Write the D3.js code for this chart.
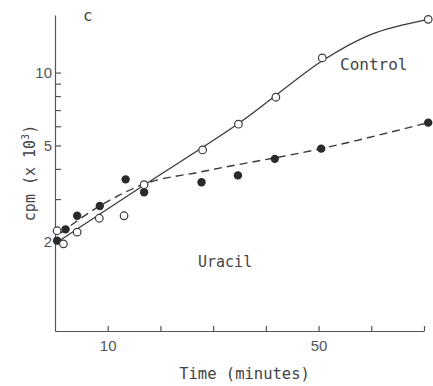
<!DOCTYPE html>
<html>
<head>
<meta charset="utf-8">
<script src="https://cdn.jsdelivr.net/npm/d3@7"></script>
<style>
  html, body { margin: 0; padding: 0; background: #fff; }
  svg { display: block; }
  .mono { font-family: "DejaVu Sans Mono", "Liberation Mono", monospace; fill: #444; }
  .tick text { font-family: "Liberation Sans", Arial, sans-serif; font-size: 15px; fill: #555; }
</style>
</head>
<body>
<script>
// time (minutes) and cpm (x 10^3)
const controlTime = [0.4, 1.6, 4.2, 8.4, 13.1, 16.9, 28, 34.8, 41.9, 50.7, 70.8];
const controlCpm  = [2.22, 1.96, 2.19, 2.50, 2.56, 3.44, 4.79, 6.12, 7.91, 11.5, 16.6];
const uracilTime  = [0.4, 2.0, 4.2, 8.5, 13.4, 16.9, 27.8, 34.7, 41.7, 50.5, 70.8];
const uracilCpm   = [2.02, 2.25, 2.56, 2.81, 3.62, 3.20, 3.52, 3.76, 4.40, 4.85, 6.21];

// hand-drawn fitted curves
const controlFitTime = [0.4, 17, 35, 51, 60, 70.8];
const controlFitCpm  = [1.99, 3.44, 6.2, 11.3, 14.4, 16.6];
const uracilFitTime  = [1, 8.5, 16.9, 28, 50.5, 70.8];
const uracilFitCpm   = [2.17, 2.81, 3.46, 3.90, 4.85, 6.21];

const xTicks = [10, 20, 30, 40, 50, 60, 70];
const xLabels = [10, 50];
const yTicks = [2, 3, 4, 5, 6, 7, 8, 9, 10];
const yLabels = [2, 5, 10];

const width = 433, height = 386;
const ink = "#3a3a3a";

const svg = d3.select("body").append("svg")
    .attr("width", width)
    .attr("height", height);

const x = d3.scaleLinear().domain([0, 70]).range([55, 424]);
const y = d3.scaleLog().domain([0.855, 17.3]).range([331, 15]);

// axes
const xAxis = d3.axisBottom(x)
    .tickValues(xTicks)
    .tickSizeInner(-5)
    .tickSizeOuter(0)
    .tickPadding(9)
    .tickFormat(d => xLabels.includes(d) ? d : "");

const yAxis = d3.axisLeft(y)
    .tickValues(yTicks)
    .tickSizeInner(-6)
    .tickSizeOuter(0)
    .tickPadding(3)
    .tickFormat(d => yLabels.includes(d) ? d : "");

const gx = svg.append("g")
    .attr("transform", `translate(0,${y.range()[0]})`)
    .call(xAxis);
const gy = svg.append("g")
    .attr("transform", `translate(${x.range()[0]},0)`)
    .call(yAxis);

[gx, gy].forEach(g => {
  g.select(".domain").attr("stroke", "#555").attr("stroke-width", 1.2);
  g.selectAll(".tick line").attr("stroke", "#555").attr("stroke-width", 1.2);
});

// fitted curves
const zip = (a, b) => a.map((v, i) => [v, b[i]]);
const line = d3.line()
    .x(d => x(d[0]))
    .y(d => y(d[1]));

svg.append("path")
    .datum(zip(controlFitTime, controlFitCpm))
    .attr("d", line.curve(d3.curveCatmullRom.alpha(0.5)))
    .attr("fill", "none")
    .attr("stroke", ink)
    .attr("stroke-width", 1.3);

svg.append("path")
    .datum(zip(uracilFitTime, uracilFitCpm))
    .attr("d", line.curve(d3.curveMonotoneX))
    .attr("fill", "none")
    .attr("stroke", ink)
    .attr("stroke-width", 1.4)
    .attr("stroke-dasharray", "8,5");

// points
svg.append("g").selectAll("circle")
    .data(zip(uracilTime, uracilCpm))
    .join("circle")
    .attr("cx", d => x(d[0]))
    .attr("cy", d => y(d[1]))
    .attr("r", 4.2)
    .attr("fill", "#2a2a2a");

svg.append("g").selectAll("circle")
    .data(zip(controlTime, controlCpm))
    .join("circle")
    .attr("cx", d => x(d[0]))
    .attr("cy", d => y(d[1]))
    .attr("r", 3.8)
    .attr("fill", "#fff")
    .attr("stroke", ink)
    .attr("stroke-width", 1.2);

// labels
svg.append("text").attr("class", "mono")
    .attr("x", 83).attr("y", 21)
    .style("font-size", "16px")
    .text("c");

svg.append("text").attr("class", "mono")
    .attr("x", 340).attr("y", 70)
    .style("font-size", "16px")
    .text("Control");

svg.append("text").attr("class", "mono")
    .attr("x", 198).attr("y", 267)
    .style("font-size", "15px")
    .text("Uracil");

svg.append("text").attr("class", "mono")
    .attr("x", (x.range()[0] + x.range()[1]) / 2 + 5).attr("y", 379)
    .attr("text-anchor", "middle")
    .style("font-size", "15.5px")
    .text("Time (minutes)");

const yt = svg.append("text").attr("class", "mono")
    .attr("transform", "translate(35,173) rotate(-90)")
    .attr("text-anchor", "middle")
    .style("font-size", "15px");
yt.append("tspan").text("cpm (x 10");
yt.append("tspan").attr("dy", -6).style("font-size", "10px").text("3");
yt.append("tspan").attr("dy", 6).text(")");
</script>
</body>
</html>
